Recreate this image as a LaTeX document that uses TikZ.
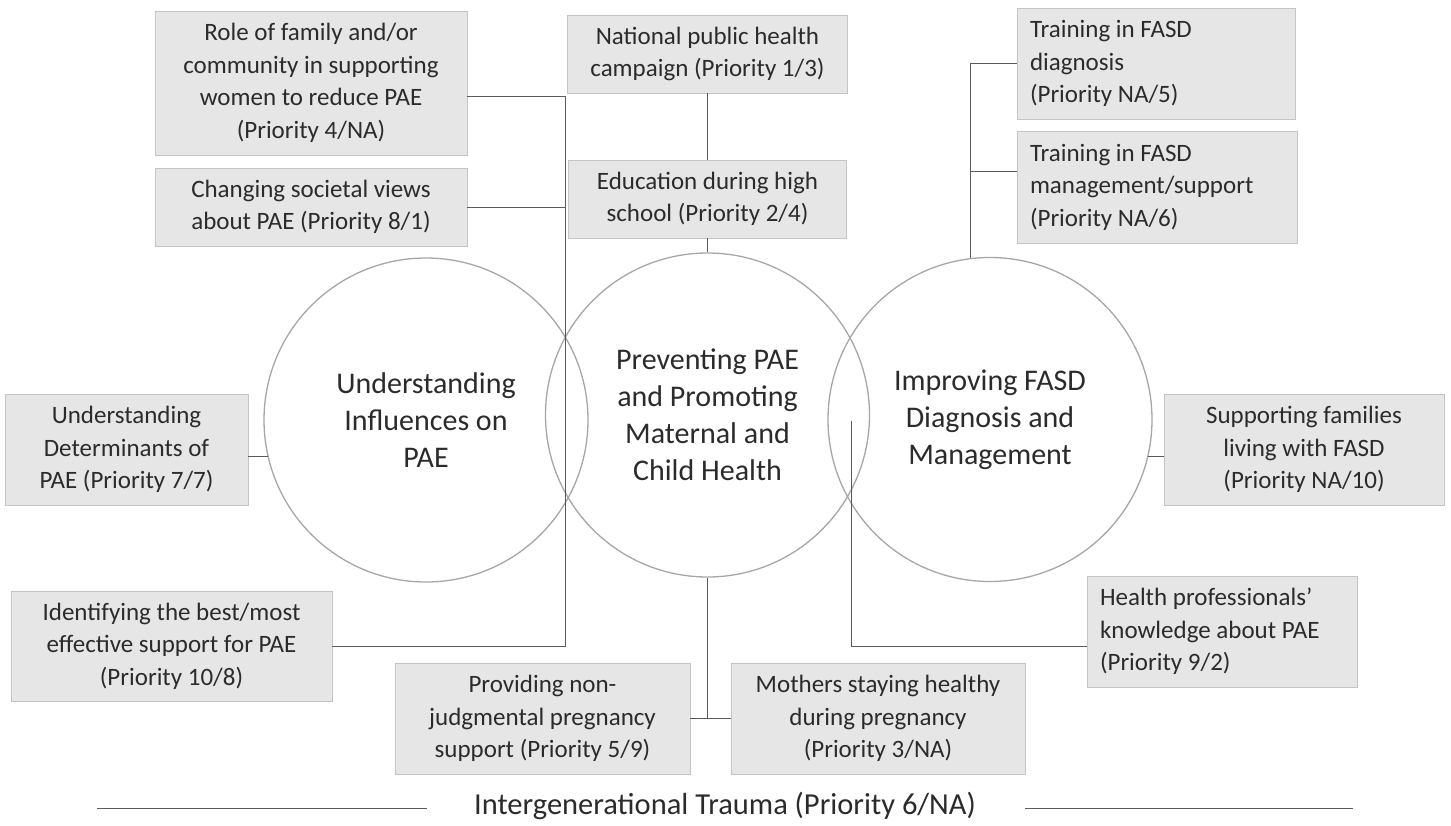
\documentclass[tikz,border=0pt]{standalone}
\usepackage{fontspec}
\setmainfont{Carlito}
\definecolor{boxfill}{HTML}{E7E6E6}
\definecolor{boxline}{HTML}{C4C4C4}
\definecolor{circline}{HTML}{A6A6A6}
\definecolor{connc}{HTML}{5A5A5A}
\definecolor{txt}{HTML}{2B2B2B}
\tikzset{
  box/.style={draw=boxline, fill=boxfill, line width=0.8pt, inner sep=0pt, align=center,
    text=txt, font=\fontsize{25}{32.5}\selectfont},
  lbox/.style={box, align=flush left, inner xsep=13pt},
  circ/.style={circle, draw=circline, line width=1.3pt, minimum size=324pt, inner sep=0pt,
    align=center, text=txt, font=\fontsize{30}{37}\selectfont},
  conn/.style={draw=connc, line width=0.9pt},
  rule/.style={draw=connc, line width=0.9pt}
}
\begin{document}
\begin{tikzpicture}[x=1pt,y=-1pt]
\useasboundingbox (0,0) rectangle (1451,825);
% circles
\node[circ] (c1) at (426,420) {Understanding\\Influences on\\PAE};
\node[circ] (c2) at (707.5,415) {Preventing PAE\\and Promoting\\Maternal and\\Child Health};
\node[circ] (c3) at (990,419.5) {Improving FASD\\Diagnosis and\\Management};
% boxes
\node[box, minimum width=312pt, minimum height=144pt] (role) at (311,83)
  {Role of family and/or\\community in supporting\\women to reduce PAE\\(Priority 4/NA)};
\node[box, minimum width=312pt, minimum height=78pt] (chg) at (311,207)
  {Changing societal views\\about PAE (Priority 8/1)};
\node[box, minimum width=280pt, minimum height=78pt] (nat) at (707.5,54)
  {National public health\\campaign (Priority 1/3)};
\node[box, minimum width=278pt, minimum height=78pt] (edu) at (707.5,199)
  {Education during high\\school (Priority 2/4)};
\node[lbox, text width=252pt, minimum height=111pt] (trd) at (1156,63.5)
  {Training in FASD\\diagnosis\\(Priority NA/5)};
\node[lbox, text width=254pt, minimum height=112pt] (trm) at (1157,187)
  {Training in FASD\\management/support\\(Priority NA/6)};
\node[box, minimum width=243pt, minimum height=111pt] (det) at (126.5,449.5)
  {Understanding\\Determinants of\\PAE (Priority 7/7)};
\node[box, minimum width=280pt, minimum height=111pt] (sup) at (1304,449.5)
  {Supporting families\\living with FASD\\(Priority NA/10)};
\node[box, minimum width=321pt, minimum height=110pt] (ident) at (171.5,646)
  {Identifying the best/most\\effective support for PAE\\(Priority 10/8)};
\node[box, minimum width=295pt, minimum height=111pt] (prov) at (542.5,718.5)
  {Providing non-\\judgmental pregnancy\\support (Priority 5/9)};
\node[box, minimum width=294pt, minimum height=111pt] (moth) at (878,718.5)
  {Mothers staying healthy\\during pregnancy\\(Priority 3/NA)};
\node[lbox, text width=244pt, minimum height=111pt] (hp) at (1222,631.5)
  {Health professionals’\\knowledge about PAE\\(Priority 9/2)};
\node[text=txt, font=\fontsize{30.5}{37}\selectfont, inner sep=0pt] (igt) at (725,806)
  {Intergenerational Trauma (Priority 6/NA)};
% helper coordinates
\coordinate (lt) at (565,0);
\coordinate (rolec) at ([yshift=-13pt]role.east);
\coordinate (trmc) at ([yshift=16pt]trm.west);
\coordinate (hs) at (851,421);
\coordinate (hpc) at ([yshift=-15pt]hp.west);
\coordinate (bl) at (97,808);
\coordinate (ble) at (427,808);
\coordinate (br) at (1353,808);
\coordinate (bre) at (1025,808);
% left tree
\draw[conn] (rolec) -- (rolec -| lt) -- (ident.east -| lt) -- (ident.east);
\draw[conn] (chg.east) -- (chg.east -| lt);
% middle
\draw[conn] (nat.south) -- (edu.north);
\draw[conn] (edu.south) -- (c2.north);
\draw[conn] (c2.south) -- (c2.south |- prov.east);
\draw[conn] (prov.east) -- (moth.west);
% right tree
\draw[conn] (c3.97) -- (c3.97 |- trd.west) -- (trd.west);
\draw[conn] (trmc) -- (trmc -| c3.97);
% side boxes
\draw[conn] (det.east |- c1.193) -- (c1.193);
\draw[conn] (c3.-13) -- (c3.-13 -| sup.west);
% health professionals
\draw[conn] (hs) -- (hs |- hpc) -- (hpc);
% bottom rule
\draw[rule] (bl) -- (ble);
\draw[rule] (br) -- (bre);
\end{tikzpicture}
\end{document}
